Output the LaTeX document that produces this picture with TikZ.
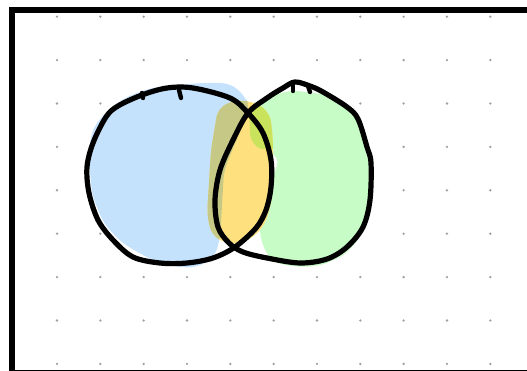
\documentclass[tikz,border=0pt]{standalone}
\usetikzlibrary{calc}
\definecolor{setblue}{HTML}{C4E2FC}
\definecolor{setgreen}{HTML}{C8FCC6}
\definecolor{setyellow}{HTML}{FFE07F}
\definecolor{setolive}{HTML}{C6C886}
\definecolor{setlime}{HTML}{C9E35C}
\definecolor{griddot}{HTML}{A0A0A0}
\tikzset{
  pen/.style={line width=5.2pt, line cap=round, line join=round},
  blob/.style={rounded corners=9pt}
}

\begin{document}
\begin{tikzpicture}[x=1pt,y=-1pt]
      \useasboundingbox (0,0) rectangle (527,371);
      \clip (0,0) rectangle (527,371);
      \fill[white] (0,0) rectangle (527,371);
      \foreach \i in {0,...,10} {
        \foreach \j in {0,...,8} {
          \fill[griddot] ({57+43.33*\i},{16.7+43.4*\j}) circle (1.3);
        }
      }
      \draw[line width=6pt] (12,10.3) rectangle (545,372.6);
      \path[fill=setblue, blob] (100,118) -- (122,99) -- (150,88) -- (200,83) -- (230,83) -- (245,96) -- (250,108)
        -- (224,170) -- (220,240) -- (214,258) -- (195,268) -- (170,266) -- (148,258) -- (122,243) -- (104,224)
        -- (92,195) -- (89,160) -- (91,133) -- cycle;
      \path[fill=setgreen, blob] (250,118) -- (262,100) -- (290,90) -- (330,95) -- (355,110) -- (368,140) -- (372,170)
        -- (370,205) -- (362,235) -- (345,255) -- (320,266) -- (295,267) -- (272,262) -- (262,245) -- (259,225)
        -- (270,185) -- (280,157) -- (262,150) -- (252,140) -- cycle;
      \begin{scope}
        \path[clip, blob] (218,108) -- (235,100) -- (255,102) -- (270,113) -- (273,140) -- (272,200) -- (265,225)
          -- (250,240) -- (230,245) -- (212,236) -- (207,215) -- (211,150) -- cycle;
        \fill[setyellow] (200,90) rectangle (280,250);
        \fill[setolive, blob] (100,118) -- (122,99) -- (150,88) -- (200,83) -- (230,83) -- (245,96) -- (250,108)
          -- (224,170) -- (220,240) -- (214,258) -- (195,268) -- cycle;
        \fill[setlime, rounded corners=5pt] (249,106) -- (300,90) -- (300,149) -- (258,149) -- (250,138) -- cycle;
      \end{scope}
      \draw[pen] plot[smooth cycle, tension=0.55] coordinates {
        (167,88) (193,88) (230,98) (248,113) (263,133) (271,160) (271,187) (266,210) (256,228) (235,247)
        (213,258) (187,263) (160,263) (133,257) (113,240) (98,220) (89,193) (87,167) (93,143) (106,117)
        (118,106) (142,95)};
      \draw[pen] plot[smooth cycle, tension=0.55] coordinates {
        (295,82) (310,86) (323,92) (347,107) (358,119) (367,147) (371,163) (370,200) (363,227) (347,247)
        (327,259) (300,263) (267,258) (243,252) (229,243) (218,227) (215,200) (220,170) (233,140) (248,113)
        (267,98) (283,88)};
      \draw[pen, line width=4.4pt] (142,93) -- (143,98);
      \draw[pen, line width=4.4pt] (179,90) -- (181,98);
      \draw[pen, line width=4.4pt] (293,83) -- (293,91);
      \draw[pen, line width=4.4pt] (308,86) -- (310,92);
    \end{tikzpicture}
\end{document}
